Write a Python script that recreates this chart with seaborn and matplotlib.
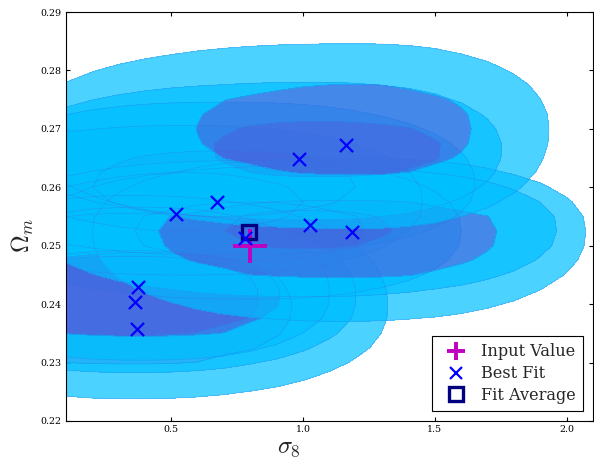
import numpy as np
import matplotlib
matplotlib.use("Agg")
import matplotlib.pyplot as plt
from matplotlib.lines import Line2D
import seaborn as sns

# best fit of each of the ten runs
fit_sigma8 = [0.518, 0.672, 0.780, 0.368, 0.362, 0.373, 1.026, 1.185, 0.985, 1.163]
fit_omega = [0.2555, 0.2574, 0.2513, 0.2358, 0.2403, 0.2429, 0.2536, 0.2524, 0.2648, 0.2672]

input_sigma8 = [0.800]
input_omega = [0.2500]
avg_sigma8 = [0.795]
avg_omega = [0.2524]

# confidence regions of each run (drawn in this order): centre and extents
cen_x = [0.55, 0.70, 0.80, 0.35, 0.35, 0.38, 1.00, 1.15, 1.05, 1.20]
cen_y = [0.2575, 0.2605, 0.2525, 0.2395, 0.2410, 0.2415, 0.2530, 0.2525, 0.2665, 0.2700]
core_left = [0.05, 0.20, 0.35, -0.30, -0.20, -0.15, 0.70, 0.42, 0.65, 0.59]
core_right = [1.00, 1.20, 1.25, 0.98, 0.85, 0.93, 1.35, 1.76, 1.55, 1.66]
core_bottom = [0.2525, 0.2550, 0.2475, 0.2295, 0.2345, 0.2340, 0.2495, 0.2443, 0.2617, 0.2620]
core_top = [0.2625, 0.2665, 0.2575, 0.2495, 0.2485, 0.2492, 0.2560, 0.2578, 0.2715, 0.2776]
outer_left = [-0.40, -0.30, -0.20, -0.50, -0.40, -0.30, 0.00, 0.20, -0.10, -0.05]
outer_right = [1.45, 1.65, 1.60, 1.32, 1.20, 1.10, 1.96, 2.07, 1.75, 1.93]
outer_bottom = [0.2450, 0.2485, 0.2410, 0.2239, 0.2284, 0.2305, 0.2414, 0.2371, 0.2545, 0.2530]
outer_top = [0.2705, 0.2745, 0.2645, 0.2585, 0.2555, 0.2565, 0.2635, 0.2650, 0.2779, 0.2845]

sns.set_style("ticks")
plt.rcParams["font.family"] = ["DejaVu Serif"]
plt.rcParams["mathtext.fontset"] = "cm"
plt.rcParams["xtick.direction"] = "in"
plt.rcParams["ytick.direction"] = "in"
plt.rcParams["xtick.top"] = True
plt.rcParams["ytick.right"] = True

gx, gy = np.meshgrid(np.arange(-0.8, 2.65, 0.1), np.arange(0.2125, 0.2976, 0.0025))


def region_radius(cx, cy, left, right, bottom, top):
    dx = np.where(gx >= cx, (gx - cx) / (right - cx), (cx - gx) / (cx - left))
    dy = np.where(gy >= cy, (gy - cy) / (top - cy), (cy - gy) / (cy - bottom))
    return (np.abs(dx) ** 2.3 + np.abs(dy) ** 2.3) ** (1 / 2.3)


fig = plt.figure(figsize=(7.425, 5.8), dpi=80)
ax = fig.add_axes([66 / 594, 1 - 421 / 464, 527 / 594, 409 / 464])

for i in range(len(cen_x)):
    r_in = region_radius(cen_x[i], cen_y[i], core_left[i], core_right[i], core_bottom[i], core_top[i])
    r_out = region_radius(cen_x[i], cen_y[i], outer_left[i], outer_right[i], outer_bottom[i], outer_top[i])
    field = np.where(r_in < 1, r_in, 1 + (r_in - 1) / np.maximum(r_in - r_out, 1e-9))
    field = np.clip(field, 0, 3)
    ax.contourf(gx, gy, field, levels=[0, 1, 2], colors=["royalblue", "deepskyblue"], alpha=0.7)
    ax.contour(gx, gy, field, levels=[1, 2], colors="royalblue", linewidths=0.6, alpha=0.35)

sns.scatterplot(x=input_sigma8, y=input_omega, marker="+", s=900, linewidth=3.5, color="m", ax=ax, zorder=5)
ax.plot(avg_sigma8, avg_omega, ls="none", marker="s", ms=13, mew=3, mfc="none", mec="navy", zorder=6)
sns.scatterplot(x=fit_sigma8, y=fit_omega, marker="x", s=140, linewidth=2, color="blue", ax=ax, zorder=7)

ax.set_xlim(0.1, 2.1)
ax.set_ylim(0.22, 0.29)
ax.set_xticks([0.5, 1.0, 1.5, 2.0])
ax.set_yticks(np.arange(0.22, 0.2901, 0.01))
ax.set_yticklabels([f"{v:.2f}" for v in np.arange(0.22, 0.2901, 0.01)])
ax.tick_params(labelsize=8.5, length=4, width=1, colors="black", pad=4)
for side in ax.spines.values():
    side.set_color("black")
    side.set_linewidth(1)

ax.set_xlabel(r"$\sigma_8$", fontsize=22)
ax.set_ylabel(r"$\Omega_m$", fontsize=22)
ax.xaxis.set_label_coords(0.423, -0.037)
ax.yaxis.set_label_coords(-0.057, 0.455)

handles = [
    Line2D([], [], ls="none", marker="+", color="m", ms=17, mew=3.5, label="Input Value"),
    Line2D([], [], ls="none", marker="x", color="blue", ms=11, mew=2, label="Best Fit"),
    Line2D([], [], ls="none", marker="s", mfc="none", mec="navy", ms=13, mew=3, label="Fit Average"),
]
leg = ax.legend(handles=handles, loc="lower right", fontsize=14.5, frameon=True, fancybox=False,
                framealpha=1, edgecolor="black", borderaxespad=0.6, handletextpad=0.6,
                labelspacing=0.3, borderpad=0.45)
leg.get_frame().set_linewidth(1)

fig.savefig("out.png", dpi=80)
